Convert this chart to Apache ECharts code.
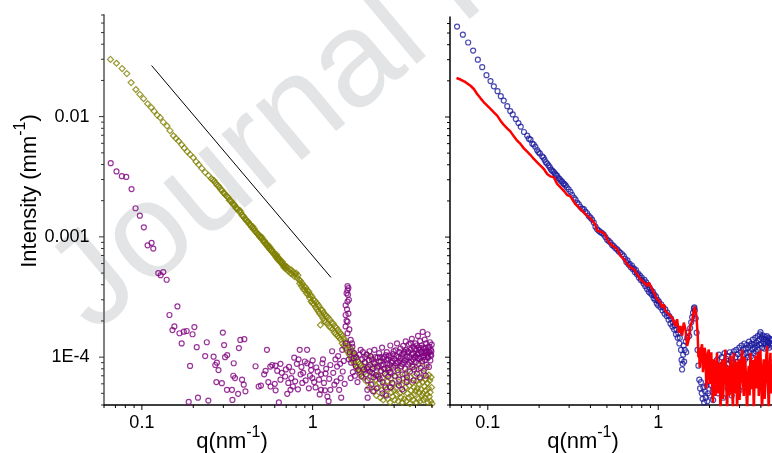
<!DOCTYPE html>
<html><head><meta charset="utf-8">
<script src="https://cdn.jsdelivr.net/npm/echarts@6/dist/echarts.min.js"></script>
<style>html,body{margin:0;padding:0;background:#fff}#c{width:772px;height:453px}</style>
</head><body><div id="c"></div>
<script>
// ---------- tick values and labels ----------
const xTickMajor = [0.1, 1];
const xTickLabels = ['0.1', '1'];
const xTickMinor = [0.06,0.07,0.08,0.09,0.2,0.3,0.4,0.5,0.6,0.7,0.8,0.9,2,3,4,5];
const yTickMajor = [1e-4, 1e-3, 1e-2];
const yTickLabels = ['1E-4', '0.001', '0.01'];
const yTickMinor = [4e-5,5e-5,6e-5,7e-5,8e-5,9e-5,2e-4,3e-4,4e-4,5e-4,6e-4,7e-4,8e-4,9e-4,
  2e-3,3e-3,4e-3,5e-3,6e-3,7e-3,8e-3,9e-3,0.02,0.03,0.04,0.05,0.06,0.07];

// ---------- left panel: olive diamonds ----------
const oliveData = [
[0.0655,0.0299],[0.0710,0.0278],[0.0766,0.0251],[0.0816,0.0228],[0.0865,0.0192],[0.0922,0.0168],[0.0973,0.0153],[0.1023,0.0141],[0.108,0.0128],[0.1135,0.0119],[0.118,0.0111],[0.123,0.0103],[0.128,0.0098],[0.1335,0.0090],[0.1403,0.00836],[0.146,0.00764],[0.153,0.00694],[0.1585,0.00659],[0.164,0.00627],[0.171,0.00584],[0.177,0.00548],[0.1847,0.00511],[0.1916,0.00485],[0.2,0.00455],[0.2077,0.00422],[0.2153,0.00398],[0.2244,0.00371],[0.2347,0.00344],[0.2455,0.00324],
[0.255,3.05e-3],[0.26,2.98e-3],[0.265,2.93e-3],[0.27,2.80e-3],[0.275,2.70e-3],[0.28,2.66e-3],[0.285,2.58e-3],[0.29,2.47e-3],[0.295,2.44e-3],[0.30,2.33e-3],[0.305,2.30e-3],[0.31,2.22e-3],[0.315,2.17e-3],[0.32,2.13e-3],[0.325,2.02e-3],[0.33,2.0e-3],[0.335,1.97e-3],[0.34,1.88e-3],[0.345,1.86e-3],[0.35,1.83e-3],[0.355,1.74e-3],[0.36,1.72e-3],[0.365,1.70e-3],[0.37,1.63e-3],[0.375,1.66e-3],[0.38,1.60e-3],[0.385,1.52e-3],[0.39,1.49e-3],[0.395,1.48e-3],[0.40,1.42e-3],[0.405,1.40e-3],[0.41,1.37e-3],[0.415,1.34e-3],[0.42,1.33e-3],[0.425,1.28e-3],[0.43,1.27e-3],[0.435,1.24e-3],[0.44,1.20e-3],[0.445,1.22e-3],[0.45,1.16e-3],[0.455,1.17e-3],[0.46,1.12e-3],[0.465,1.10e-3],[0.47,1.08e-3],[0.475,1.06e-3],[0.48,1.05e-3],[0.485,1.03e-3],[0.49,1.0e-3],[0.495,1.01e-3],[0.50,9.7e-4],[0.505,9.9e-4],[0.51,9.4e-4],[0.515,9.3e-4],[0.52,9.0e-4],[0.525,9.2e-4],[0.53,8.8e-4],[0.535,8.6e-4],[0.54,8.7e-4],[0.545,8.3e-4],[0.55,8.2e-4],[0.555,8.4e-4],[0.56,7.9e-4],[0.565,8.1e-4],[0.57,7.7e-4],[0.575,7.8e-4],[0.58,7.5e-4],[0.585,7.6e-4],[0.59,7.3e-4],[0.595,7.2e-4],[0.60,7.1e-4],[0.605,7.0e-4],[0.61,6.8e-4],[0.615,7.1e-4],[0.62,6.6e-4],[0.625,6.8e-4],[0.63,6.4e-4],[0.635,6.6e-4],[0.64,6.5e-4],[0.645,6.2e-4],[0.65,6.3e-4],[0.655,6.1e-4],[0.66,6.0e-4],[0.665,6.2e-4],[0.67,5.8e-4],[0.675,5.9e-4],[0.68,5.6e-4],[0.685,5.8e-4],[0.69,5.5e-4],[0.695,5.7e-4],[0.70,5.4e-4],[0.71,5.6e-4],[0.72,5.2e-4],[0.73,5.4e-4],[0.74,5.0e-4],[0.75,5.3e-4],[0.76,4.9e-4],[0.77,5.1e-4],[0.78,4.7e-4],[0.79,4.9e-4],[0.80,5.0e-4],[0.81,4.6e-4],[0.82,4.8e-4],[0.83,4.4e-4],[0.84,4.1e-4],[0.85,4.3e-4],[0.86,3.9e-4],[0.87,4.1e-4],[0.88,3.7e-4],[0.89,3.9e-4],[0.90,3.6e-4],[0.91,3.8e-4],[0.92,3.4e-4],[0.93,3.6e-4],[0.94,3.3e-4],[0.95,3.5e-4],[0.96,3.1e-4],[0.97,3.3e-4],[0.98,2.9e-4],[0.99,3.2e-4],[1.0,2.8e-4],[1.01,3.0e-4],
[1.02,2.75e-4],[1.03,2.95e-4],[1.04,2.6e-4],[1.05,2.85e-4],[1.06,2.5e-4],[1.07,2.75e-4],[1.08,2.4e-4],[1.09,2.65e-4],[1.10,2.3e-4],[1.11,1.85e-4],[1.12,2.5e-4],[1.13,2.2e-4],[1.14,2.45e-4],[1.15,2.1e-4],[1.16,2.35e-4],[1.17,2.0e-4],[1.18,2.25e-4],[1.19,1.95e-4],[1.20,2.2e-4],[1.22,1.9e-4],[1.23,2.15e-4],[1.25,1.8e-4],[1.26,2.05e-4],[1.28,1.75e-4],[1.29,1.95e-4],[1.31,1.7e-4],[1.32,1.9e-4],[1.34,1.6e-4],[1.35,1.8e-4],[1.37,1.55e-4],[1.38,1.75e-4],[1.40,1.5e-4],[1.41,1.68e-4],[1.43,1.45e-4],[1.44,1.6e-4],[1.46,1.4e-4],[1.47,1.55e-4],[1.49,1.3e-4],[1.50,1.5e-4],[1.52,1.25e-4],[1.53,1.42e-4],[1.55,1.2e-4],[1.56,1.35e-4],[1.58,1.15e-4],[1.59,1.3e-4],[1.61,1.1e-4],[1.62,1.26e-4],[1.64,1.05e-4],[1.65,1.2e-4],[1.67,1.0e-4],[1.68,1.16e-4],[1.70,9.6e-5],[1.71,1.12e-4],[1.73,9.2e-5],[1.74,1.06e-4],[1.76,8.8e-5],[1.77,1.02e-4],[1.79,8.5e-5],[1.80,9.8e-5],[1.82,8.2e-5],[1.83,9.4e-5],[1.85,7.9e-5],[1.86,9.1e-5],[1.88,7.6e-5],[1.89,8.8e-5],[1.91,7.3e-5],[1.92,8.5e-5],[1.94,7.0e-5],[1.95,8.2e-5],[1.97,6.8e-5],[1.98,7.9e-5],
[2.01,7.5e-5],[2.04,9.0e-5],[2.06,6.3e-5],[2.09,1.05e-4],[2.11,7.9e-5],[2.14,5.6e-5],[2.16,8.6e-5],[2.19,6.9e-5],[2.21,1.0e-4],[2.24,6.0e-5],[2.26,7.3e-5],[2.29,5.2e-5],[2.31,8.3e-5],[2.34,6.5e-5],[2.36,4.8e-5],[2.39,7.0e-5],[2.41,5.6e-5],[2.44,9.2e-5],[2.46,6.1e-5],[2.49,4.6e-5],[2.51,7.6e-5],[2.54,5.3e-5],[2.56,6.7e-5],[2.59,4.4e-5],[2.61,8.0e-5],[2.64,5.8e-5],[2.66,4.9e-5],[2.69,7.1e-5],[2.71,5.4e-5],[2.74,6.3e-5],[2.76,4.5e-5],[2.79,7.8e-5],[2.81,5.7e-5],[2.84,4.2e-5],[2.86,6.6e-5],[2.89,5.1e-5],[2.91,8.4e-5],[2.94,4.7e-5],[2.96,6.0e-5],[2.99,5.3e-5],[3.02,4.4e-5],[3.05,6.9e-5],[3.08,5.5e-5],[3.11,4.9e-5],[3.14,7.4e-5],[3.17,4.3e-5],[3.2,6.2e-5],[3.23,5.0e-5],[3.26,8.1e-5],[3.29,4.6e-5],[3.32,5.9e-5],[3.35,4.2e-5],[3.38,6.7e-5],[3.41,5.2e-5],[3.44,4.5e-5],[3.47,7.2e-5],[3.5,5.6e-5],[3.53,4.3e-5],[3.56,6.4e-5],[3.59,5.0e-5],[3.62,7.7e-5],[3.65,4.6e-5],[3.68,5.8e-5],[3.71,4.1e-5],[3.74,6.8e-5],[3.77,5.3e-5],[3.8,4.7e-5],[3.83,6.1e-5],[3.86,8.6e-5],[3.89,4.4e-5],[3.92,5.6e-5],[3.95,4.9e-5],[3.98,7.0e-5],[4.01,5.2e-5],[4.04,4.2e-5],[4.07,6.3e-5],[4.1,5.5e-5],[4.13,7.9e-5],[4.16,4.5e-5],[4.19,6.0e-5],[4.22,5.1e-5],[4.25,4.3e-5],[4.28,6.6e-5],[4.31,5.4e-5],[4.34,9.0e-5],[4.37,4.8e-5],[4.4,6.2e-5],[4.43,5.0e-5],[4.46,4.4e-5],[4.49,7.3e-5],[4.52,5.7e-5],[4.55,4.6e-5],[4.58,6.5e-5],[4.61,5.3e-5],[4.64,8.2e-5],[4.67,4.9e-5],[4.7,6.1e-5],[4.73,4.2e-5],[4.76,5.5e-5],[4.79,7.1e-5],[4.82,4.7e-5],[4.85,6.4e-5],[4.88,5.1e-5],[4.91,4.3e-5],[4.94,6.8e-5],[4.97,5.6e-5],[5.0,4.1e-5]
];

// ---------- left panel: purple circles ----------
const purpleData = [
[0.0657,4.1e-3],[0.071,3.5e-3],[0.0763,3.2e-3],[0.081,3.15e-3],[0.087,2.5e-3],[0.0918,1.73e-3],[0.0973,1.5e-3],[0.1027,1.2e-3],[0.108,8.5e-4],[0.114,8.9e-4],[0.1166,8.0e-4],[0.1247,5.0e-4],[0.1288,4.8e-4],[0.1335,5.1e-4],[0.1397,4.4e-4],[0.145,2.24e-4],[0.1615,2.64e-4],[0.151,1.68e-4],[0.155,1.8e-4],[0.166,1.58e-4],[0.171,1.3e-4],[0.176,1.63e-4],[0.183,1.65e-4],[0.198,1.55e-4],[0.203,1.78e-4],[0.1915,8.45e-5],[0.2095,1.21e-4],[0.188,4.24e-5],[0.213,4.6e-5],[0.2347,1.02e-4],[0.240,1.33e-4],[0.245,4.35e-5],[0.263,1.01e-4],[0.269,8.6e-5],[0.275,9.0e-5],[0.281,7.8e-5],[0.273,6.2e-5],[0.298,1.6e-4],[0.303,1.26e-4],[0.307,1.0e-4],[0.316,1.04e-4],[0.294,6.07e-5],[0.315,5.35e-5],[0.337,5.35e-5],[0.345,8.9e-5],[0.343,7.0e-5],[0.351,6.7e-5],[0.366,4.95e-5],[0.370,1.19e-4],[0.377,1.39e-4],[0.398,1.41e-4],[0.386,6.5e-5],[0.395,5.9e-5],[0.404,5.2e-5],[0.339,4.41e-5],[0.463,8.4e-5],[0.483,5.7e-5],[0.498,5.8e-5],[0.52,7.2e-5],[0.53,7.7e-5],[0.54,1.15e-4],[0.565,8.35e-5],[0.58,8.6e-5],[0.606,8.5e-5],[0.62,7.7e-5],[0.648,8.8e-5],[0.634,4.2e-5],[0.55,6.2e-5],[0.567,5.7e-5],[0.607,5.3e-5],[0.648,6.5e-5],[0.69,6.9e-5],[0.697,7.9e-5],[0.727,8.3e-5],[0.75,6.7e-5],[0.766,5.7e-5],[0.742,5.35e-5],[0.71,4.95e-5],[0.78,9.9e-5],[0.808,8.8e-5],[0.827,9.6e-5],[0.85,7.2e-5],[0.84,1.15e-4],[0.86,8.3e-5],[0.88,7.4e-5],[0.928,1.15e-4],[0.93,8.9e-5],[0.965,7.0e-5],[0.975,8.6e-5],[0.996,6.7e-5],[1.02,6.2e-5],[1.07,7.6e-5],[1.12,7.2e-5],[1.14,8.9e-5],[1.165,6.1e-5],[1.19,7.3e-5],[1.12,5.35e-5],[1.22,4.7e-5],[1.27,8.6e-5],[1.3,1.12e-4],[1.24,4.3e-5],[1.36,9.6e-5],[1.39,8.35e-5],[1.46,6.7e-5],[1.43,5.35e-5],[1.27,5.35e-5],[1.49,1.15e-4],
[0.6,6.0e-5],[0.66,7.4e-5],[0.72,6.1e-5],[0.76,7.6e-5],[0.79,6.3e-5],[0.82,5.4e-5],[0.87,6.1e-5],[0.9,9.2e-5],[0.91,6.4e-5],[0.95,5.5e-5],[0.98,7.8e-5],[1.0,9.4e-5],[1.04,5.6e-5],[1.05,8.2e-5],[1.09,6.5e-5],[1.1,4.9e-5],[1.15,9.6e-5],[1.18,5.3e-5],[1.2,8.0e-5],[1.25,6.6e-5],[1.32,7.4e-5],[1.34,5.9e-5],[1.38,6.3e-5],[1.41,1.02e-4],[1.45,8.8e-5],[1.47,4.6e-5],[1.5,7.6e-5],[1.52,9.3e-5],[1.54,6.0e-5],
[1.56,1.3e-4],[1.6,1.58e-4],[1.6,3.6e-4],[1.6,3.9e-4],[1.61,3.3e-4],[1.56,2.7e-4],[1.63,3.0e-4],[1.56,2.24e-4],[1.6,1.97e-4],[1.56,1.8e-4],[1.58,2.0e-4],[1.59,2.5e-4],[1.6,2.9e-4],[1.62,2.3e-4],[1.58,3.4e-4],[1.62,3.75e-4],[1.64,1.7e-4],[1.65,1.1e-4],[1.67,1.39e-4],[1.71,1.22e-4],[1.75,1.08e-4],[1.63,9.6e-5],[1.67,6.7e-5],[1.68,9.0e-5],[1.7,1.3e-4],[1.72,7.5e-5],[1.74,9.8e-5],[1.77,7.0e-5],[1.79,8.35e-5],[1.8,1.0e-4],[1.83,6.2e-5],[1.85,7.8e-5],[1.88,1.05e-4],[1.91,1.15e-4],[1.93,6.9e-5],[1.95,9.6e-5],[1.97,1.1e-4],[2.0,7.9e-5],[2.09,5.35e-5],
[2.02,9.1e-5],[2.05,7.2e-5],[2.07,1.05e-4],[2.10,6.4e-5],[2.12,8.3e-5],[2.15,1.12e-4],[2.17,7.6e-5],[2.2,5.9e-5],[2.22,9.6e-5],[2.25,8.0e-5],[2.27,6.8e-5],[2.3,1.15e-4],[2.32,8.8e-5],[2.35,7.1e-5],[2.37,5.5e-5],[2.4,9.9e-5],[2.42,8.4e-5],[2.45,1.08e-4],[2.47,6.6e-5],[2.5,9.2e-5],[2.52,7.7e-5],[2.55,1.2e-4],[2.57,6.2e-5],[2.6,8.7e-5],[2.62,1.0e-4],[2.65,7.3e-5],[2.67,5.6e-5],[2.7,9.5e-5],[2.72,1.1e-4],[2.75,8.1e-5],[2.77,6.9e-5],[2.8,1.03e-4],[2.82,8.6e-5],[2.85,1.25e-4],[2.87,7.4e-5],[2.9,9.0e-5],[2.92,6.1e-5],[2.95,1.06e-4],[2.97,8.2e-5],[3.0,9.7e-5],[3.03,7.0e-5],[3.06,1.14e-4],[3.09,8.9e-5],[3.12,1.3e-4],[3.15,7.8e-5],[3.18,1.0e-4],[3.21,6.5e-5],[3.24,9.3e-5],[3.27,1.18e-4],[3.3,8.4e-5],[3.33,1.05e-4],[3.36,7.2e-5],[3.39,1.24e-4],[3.42,9.0e-5],[3.45,1.1e-4],[3.48,8.0e-5],[3.51,1.35e-4],[3.54,9.6e-5],[3.57,6.8e-5],[3.6,1.12e-4],[3.63,8.7e-5],[3.66,1.28e-4],[3.69,1.0e-4],[3.72,7.6e-5],[3.75,1.15e-4],[3.78,9.2e-5],[3.81,1.42e-4],[3.84,8.3e-5],[3.87,1.08e-4],[3.9,1.22e-4],[3.93,7.9e-5],[3.96,1.0e-4],[3.99,1.3e-4],[4.02,9.1e-5],[4.05,1.16e-4],[4.08,7.3e-5],[4.11,1.05e-4],[4.14,1.5e-4],[4.17,8.8e-5],[4.2,1.2e-4],[4.23,9.7e-5],[4.26,1.36e-4],[4.29,8.1e-5],[4.32,1.1e-4],[4.35,1.25e-4],[4.38,9.3e-5],[4.41,1.62e-4],[4.44,1.03e-4],[4.47,7.7e-5],[4.5,1.18e-4],[4.53,1.4e-4],[4.56,9.5e-5],[4.59,1.12e-4],[4.62,1.3e-4],[4.65,8.6e-5],[4.68,1.05e-4],[4.71,1.55e-4],[4.74,9.9e-5],[4.77,1.21e-4],[4.8,8.3e-5],[4.83,1.1e-4],[4.86,1.33e-4],[4.89,9.4e-5],[4.92,1.15e-4],[4.95,1.03e-4],[4.98,1.27e-4],
[2.03,1.0e-4],[2.08,8.1e-5],[2.13,9.4e-5],[2.18,1.02e-4],[2.23,7.4e-5],[2.28,9.0e-5],[2.33,1.0e-4],[2.38,8.2e-5],[2.43,6.9e-5],[2.48,1.0e-4],[2.53,8.6e-5],[2.58,9.8e-5],[2.63,8.0e-5],[2.68,1.04e-4],[2.73,8.9e-5],[2.78,9.6e-5],[2.83,7.5e-5],[2.88,1.0e-4],[2.93,9.3e-5],[2.98,1.12e-4],[3.04,8.5e-5],[3.1,1.02e-4],[3.16,9.0e-5],[3.22,1.1e-4],[3.28,9.8e-5],[3.34,8.8e-5],[3.4,1.07e-4],[3.46,9.4e-5],[3.52,1.15e-4],[3.58,1.0e-4],[3.64,1.1e-4],[3.7,9.0e-5],[3.76,1.3e-4],[3.82,1.05e-4],[3.88,9.6e-5],[3.94,1.17e-4],[4.0,1.02e-4],[4.06,1.25e-4],[4.12,9.8e-5],[4.18,1.08e-4],[4.24,1.15e-4],[4.3,1.0e-4],[4.36,1.1e-4],[4.42,1.2e-4],[4.48,1.0e-4],[4.54,1.08e-4],[4.6,1.2e-4],[4.66,1.12e-4],[4.72,1.0e-4],[4.78,1.1e-4],[4.84,1.22e-4],[4.9,1.05e-4],[4.96,1.12e-4],
[2.26,5.2e-5],[2.56,5.0e-5],[2.86,5.6e-5],[3.2,5.8e-5],[3.55,6.2e-5],[3.9,6.4e-5],[4.25,6.8e-5],[4.6,7.0e-5],[2.1,4.6e-5],[2.7,4.8e-5],[3.35,5.4e-5]
];

// ---------- left panel: reference slope line ----------
const slopeLine = [[0.114, 0.0266], [1.28, 4.6e-4]];

// ---------- right panel: blue circles ----------
const blueData = [
[0.066,0.0566],[0.0714,0.0485],[0.0767,0.0417],[0.082,0.0357],[0.0874,0.030],[0.0927,0.026],[0.0982,0.0223],[0.1037,0.0199],[0.1085,0.018],[0.114,0.0164],[0.1192,0.0149],[0.124,0.0137],[0.130,0.0123],[0.1354,0.0112],[0.140,0.0105],[0.146,0.0096],[0.1513,0.0089],[0.156,0.0083],[0.163,0.0075],
[0.1703,6.99e-3],[0.178,6.47e-3],[0.1825,6.0e-3],[0.190,5.65e-3],[0.1947,5.3e-3],[0.2019,4.97e-3],[0.2083,4.7e-3],[0.2152,4.4e-3],[0.2229,4.1e-3],[0.2312,3.8e-3],[0.2387,3.57e-3],[0.247,3.39e-3],[0.2552,3.24e-3],[0.264,3.04e-3],[0.2725,2.9e-3],[0.2812,2.76e-3],[0.2906,2.6e-3],[0.3053,2.38e-3],[0.3196,2.13e-3],[0.3344,1.94e-3],[0.3497,1.78e-3],[0.3658,1.71e-3],[0.3826,1.58e-3],[0.4002,1.45e-3],[0.4186,1.32e-3],[0.438,1.16e-3],[0.458,1.1e-3],[0.479,1.05e-3],[0.5013,9.5e-4],[0.524,9.0e-4],[0.548,8.4e-4],[0.574,7.9e-4],[0.6,7.4e-4],[0.628,6.95e-4],
[0.174,6.6e-3],[0.186,5.9e-3],[0.198,5.1e-3],[0.212,4.6e-3],[0.219,4.2e-3],[0.227,3.95e-3],[0.235,3.65e-3],[0.243,3.5e-3],[0.251,3.3e-3],[0.26,3.1e-3],[0.268,2.95e-3],[0.277,2.8e-3],[0.286,2.7e-3],[0.298,2.5e-3],[0.312,2.25e-3],[0.327,2.05e-3],[0.342,1.87e-3],[0.358,1.72e-3],[0.374,1.63e-3],[0.391,1.5e-3],[0.409,1.4e-3],[0.428,1.22e-3],[0.448,1.13e-3],[0.468,1.08e-3],[0.49,1.0e-3],[0.512,9.3e-4],[0.536,8.6e-4],[0.56,8.1e-4],[0.587,7.6e-4],[0.614,7.2e-4],
[0.64,6.6e-4],[0.65,6.2e-4],[0.66,6.4e-4],[0.67,5.9e-4],[0.68,6.0e-4],[0.69,5.6e-4],[0.70,5.8e-4],[0.71,5.4e-4],[0.72,5.5e-4],[0.73,5.1e-4],[0.74,5.3e-4],[0.75,4.9e-4],[0.76,5.0e-4],[0.77,4.6e-4],[0.78,4.8e-4],[0.79,4.4e-4],[0.80,4.6e-4],[0.81,4.3e-4],[0.82,4.1e-4],[0.83,4.4e-4],[0.84,3.9e-4],[0.85,4.2e-4],[0.86,3.7e-4],[0.87,4.0e-4],[0.88,3.5e-4],[0.89,3.8e-4],[0.90,3.4e-4],[0.91,3.6e-4],[0.92,3.3e-4],[0.93,3.5e-4],[0.94,3.1e-4],[0.95,3.3e-4],[0.96,3.0e-4],[0.97,3.2e-4],[0.98,2.8e-4],[0.99,3.0e-4],[1.0,2.7e-4],[1.01,2.9e-4],[1.03,2.6e-4],[1.04,2.75e-4],[1.06,2.45e-4],[1.07,2.6e-4],[1.09,2.3e-4],[1.10,2.5e-4],[1.12,2.2e-4],[1.13,2.35e-4],[1.15,2.05e-4],[1.16,2.2e-4],[1.18,1.9e-4],[1.19,2.1e-4],[1.21,1.8e-4],[1.22,1.95e-4],[1.24,1.7e-4],[1.25,1.85e-4],[1.27,1.55e-4],[1.28,1.7e-4],[1.30,1.45e-4],[1.31,1.6e-4],[1.33,1.3e-4],[1.34,1.45e-4],[1.36,1.15e-4],[1.37,9.5e-5],[1.38,7.9e-5],[1.39,8.8e-5],[1.40,1.05e-4],[1.41,1.25e-4],[1.42,9.2e-5],[1.43,1.15e-4],[1.45,1.35e-4],[1.46,1.1e-4],[1.48,1.45e-4],[1.50,1.6e-4],[1.52,1.5e-4],[1.54,1.75e-4],[1.56,1.95e-4],[1.58,2.15e-4],[1.60,2.35e-4],[1.62,2.55e-4],[1.63,2.6e-4],[1.64,2.45e-4],[1.66,2.1e-4],[1.68,1.6e-4],[1.70,1.15e-4],[1.72,8.5e-5],[1.74,6.5e-5],[1.76,5.5e-5],[1.78,6.2e-5],[1.80,5.0e-5],[1.82,4.5e-5],[1.84,5.6e-5],[1.86,4.2e-5],[1.88,5.2e-5],[1.90,4.6e-5],[1.92,5.8e-5],[1.94,4.3e-5],[1.96,5.0e-5],[1.98,6.3e-5],[2.0,4.8e-5],
[2.03,5.9e-5],[2.06,7.0e-5],[2.09,5.4e-5],[2.12,6.6e-5],[2.15,8.0e-5],[2.18,6.1e-5],[2.21,9.5e-5],[2.24,7.4e-5],[2.27,1.05e-4],[2.30,6.8e-5],[2.33,8.6e-5],[2.36,1.0e-4],[2.39,7.7e-5],[2.42,9.0e-5],[2.45,1.08e-4],[2.48,8.2e-5],[2.51,9.7e-5],[2.54,7.2e-5],[2.57,1.02e-4],[2.60,8.8e-5],[2.63,1.1e-4],[2.66,9.3e-5],[2.69,7.9e-5],[2.72,1.05e-4],[2.75,9.0e-5],[2.78,1.12e-4],[2.81,8.4e-5],[2.84,1.0e-4],[2.87,1.15e-4],[2.90,9.1e-5],[2.93,1.06e-4],[2.96,8.0e-5],[2.99,1.2e-4],[3.02,9.8e-5],[3.05,1.1e-4],[3.08,1.25e-4],[3.11,9.4e-5],[3.14,1.16e-4],[3.17,1.05e-4],[3.20,1.3e-4],[3.23,9.6e-5],[3.26,1.18e-4],[3.29,1.08e-4],[3.32,1.27e-4],[3.35,1.0e-4],[3.38,1.2e-4],[3.41,1.35e-4],[3.44,1.1e-4],[3.47,1.25e-4],[3.50,1.02e-4],[3.53,1.3e-4],[3.56,1.16e-4],[3.59,1.4e-4],[3.62,1.08e-4],[3.65,1.28e-4],[3.68,1.2e-4],[3.71,1.45e-4],[3.74,1.12e-4],[3.77,1.32e-4],[3.80,1.25e-4],[3.83,1.5e-4],[3.86,1.15e-4],[3.89,1.38e-4],[3.92,1.28e-4],[3.95,1.55e-4],[3.98,1.62e-4],[4.01,1.3e-4],[4.04,1.45e-4],[4.07,1.2e-4],[4.10,1.52e-4],[4.13,1.35e-4],[4.16,1.42e-4],[4.19,1.18e-4],[4.22,1.48e-4],[4.25,1.3e-4],[4.28,1.4e-4],[4.31,1.22e-4],[4.34,1.5e-4],[4.37,1.35e-4],[4.40,1.25e-4],[4.43,1.45e-4],[4.46,1.32e-4],[4.49,1.2e-4],[4.52,1.42e-4],[4.55,1.3e-4],[4.58,1.38e-4],[4.61,1.25e-4],[4.64,1.4e-4],
[2.1,4.4e-5],[2.25,5.0e-5],[2.4,4.6e-5],[2.55,5.5e-5],[2.7,4.8e-5],[2.85,6.0e-5],[3.0,5.3e-5],[3.15,6.5e-5],[3.3,5.8e-5],[3.45,7.0e-5],[3.6,6.2e-5],[3.75,7.5e-5],[3.9,6.8e-5],[4.05,8.0e-5],[4.2,7.2e-5],[4.35,8.5e-5],[4.5,7.6e-5],[4.62,9.0e-5]
];

// ---------- right panel: red line ----------
const redData = [
[0.0655,0.0211],[0.0692,0.0205],[0.0740,0.0195],[0.0792,0.0182],[0.0828,0.0171],[0.0866,0.01555],[0.0907,0.0143],[0.0948,0.01325],[0.0992,0.01242],[0.1037,0.01166],[0.1085,0.01094],[0.1135,0.01026],[0.1187,0.00932],[0.1242,0.00858],[0.1299,0.00805],[0.1359,0.00755],[0.1421,0.0069],[0.1487,0.00635],[0.1555,0.00596],[0.1628,0.00548],[0.1702,0.00514],[0.1781,0.00482],[0.1862,0.00447],[0.1948,0.00419],[0.2037,0.00393],[0.2132,0.00369],[0.2230,0.00335],[0.2332,0.0032],[0.2440,0.00314],[0.2495,0.00304],[0.2552,0.00277],[0.2670,0.00259],[0.2793,0.00243],[0.2921,0.00224],[0.2987,0.00217],[0.3055,0.00218],[0.3125,0.00207],[0.3196,0.00197],[0.3269,0.00188],[0.3343,0.00182],[0.3497,0.00171],[0.3658,0.0016],[0.3826,0.00151],[0.4002,0.00143],[0.4187,0.00132],[0.4282,0.00126],[0.438,0.00113],[0.4581,0.00111],[0.4793,0.00108],[0.4902,0.00103],[0.5013,0.000962],[0.5128,0.000962],[0.5245,0.000874],[0.5486,0.000836],[0.5739,0.000794],
[0.600,6.99e-4],[0.628,6.55e-4],[0.657,5.95e-4],[0.687,5.58e-4],[0.719,5.41e-4],[0.752,4.91e-4],[0.786,4.46e-4],[0.804,4.61e-4],[0.823,4.19e-4],[0.860,3.93e-4],[0.880,4.19e-4],[0.900,4.06e-4],[0.920,3.69e-4],[0.941,3.46e-4],[0.963,3.57e-4],[0.985,3.04e-4],[1.030,2.85e-4],[1.054,2.59e-4],[1.078,2.76e-4],[1.102,2.43e-4],[1.127,2.51e-4],[1.153,2.28e-4],[1.179,2.36e-4],[1.206,2.14e-4],[1.233,2.21e-4],[1.261,1.82e-4],[1.290,2.07e-4],[1.320,1.6e-4],[1.350,1.82e-4],[1.381,1.51e-4],[1.412,1.94e-4],[1.444,1.71e-4],[1.477,1.24e-4],[1.511,1.41e-4],[1.545,1.82e-4],[1.580,2.01e-4],[1.616,2.43e-4],[1.638,2.64e-4],[1.675,2.21e-4],
[1.705,1.51e-4],[1.72,1.0e-4],[1.737,1.16e-4],[1.75,8.2e-5],[1.768,9.6e-5],[1.79,1.2e-4],[1.808,1.28e-4],[1.83,7.5e-5],[1.850,9.0e-5],[1.87,1.2e-4],[1.892,1.09e-4],[1.915,5.5e-5],[1.935,6.99e-5],[1.955,1.05e-4],[1.979,1.16e-4],[2.0,6.0e-5],[2.024,8.47e-5],[2.048,1.1e-4],[2.071,5.77e-5],[2.095,4.2e-5],[2.118,9.6e-5],[2.142,7.0e-5],[2.166,4.76e-5],[2.19,8.8e-5],[2.215,1.09e-4],[2.24,5.0e-5],[2.266,6.99e-5],[2.29,9.0e-5],[2.317,3.5e-5],[2.343,6.5e-5],[2.370,9.6e-5],[2.397,4.5e-5],[2.424,6.15e-5],[2.45,8.5e-5],[2.479,1.16e-4],[2.507,6.0e-5],[2.535,3.5e-5],[2.564,7.0e-5],[2.593,8.47e-5],[2.62,4.8e-5],[2.651,1.03e-4],[2.68,7.5e-5],[2.712,5.41e-5],[2.743,3.8e-5],[2.774,1.09e-4],[2.805,5.0e-5],[2.837,6.99e-5],[2.87,9.2e-5],[2.902,3.5e-5],[2.935,7.5e-5],[2.968,9.6e-5],[3.0,4.4e-5],[3.036,6.15e-5],[3.07,9.0e-5],[3.105,1.16e-4],[3.14,6.5e-5],[3.175,4.76e-5],[3.21,1.0e-4],[3.248,9.0e-5],[3.285,5.5e-5],[3.322,3.5e-5],[3.36,7.0e-5],[3.397,8.47e-5],[3.436,4.8e-5],[3.475,1.09e-4],[3.515,7.5e-5],[3.554,5.41e-5],[3.594,9.5e-5],[3.635,3.5e-5],[3.676,6.8e-5],[3.718,1.03e-4],[3.76,5.5e-5],[3.80,7.94e-5],[3.845,1.1e-4],[3.889,4.76e-5],[3.933,8.5e-5],[3.977,1.16e-4],[4.02,6.0e-5],[4.068,3.5e-5],[4.115,7.8e-5],[4.161,9.6e-5],[4.21,4.5e-5],[4.255,6.15e-5],[4.3,1.0e-4],[4.352,1.24e-4],[4.4,6.5e-5],[4.451,3.5e-5],[4.5,8.0e-5],[4.553,1.09e-4],[4.605,5.0e-5],[4.657,6.99e-5]
];

// ---------- layout / style ----------
const FONT = '"Liberation Sans", Arial, Helvetica, sans-serif';
const X_MIN = 0.06, Y_MIN = 4e-5;
const X_MAX = [5, 4.65], Y_MAX = [0.07, 0.068];

function xTickSeries(gi, vals, len, labels) {
  return {
    type: 'custom', xAxisIndex: gi, yAxisIndex: gi, clip: false, silent: true, z: 6,
    encode: { x: 0, y: 1 },
    data: vals.filter(v => v <= X_MAX[gi] * 1.0001).map(v => [v, Y_MIN]),
    renderItem: (params, api) => {
      const p = api.coord([api.value(0), api.value(1)]);
      const ch = [{ type: 'line', shape: { x1: p[0], y1: p[1], x2: p[0], y2: p[1] + len }, style: { stroke: '#000', lineWidth: 1 } }];
      if (labels) ch.push({ type: 'text', x: p[0], y: p[1] + 9,
        style: { text: labels[params.dataIndex], fontSize: 18, fontFamily: FONT, fill: '#000', align: 'center', verticalAlign: 'top' } });
      return { type: 'group', children: ch };
    }
  };
}
function yTickSeries(gi, vals, len, labels, color) {
  return {
    type: 'custom', xAxisIndex: gi, yAxisIndex: gi, clip: false, silent: true, z: 6,
    encode: { x: 0, y: 1 },
    data: vals.filter(v => v <= Y_MAX[gi] * 1.0001).map(v => [X_MIN, v]),
    renderItem: (params, api) => {
      const p = api.coord([api.value(0), api.value(1)]);
      const ch = [{ type: 'line', shape: { x1: p[0] - len, y1: p[1], x2: p[0], y2: p[1] }, style: { stroke: color, lineWidth: 1 } }];
      if (labels) ch.push({ type: 'text', x: p[0] - 14.5, y: p[1],
        style: { text: labels[params.dataIndex], fontSize: 18, fontFamily: FONT, fill: '#000', align: 'right', verticalAlign: 'middle' } });
      return { type: 'group', children: ch };
    }
  };
}

const richTitle = {
  a: { fontSize: 22, fontFamily: FONT, fill: '#000', lineHeight: 28, verticalAlign: 'bottom' },
  s: { fontSize: 16, fontFamily: FONT, fill: '#000', lineHeight: 16, verticalAlign: 'top' }
};

const chart = echarts.init(document.getElementById('c'), null, { renderer: 'canvas' });
chart.setOption({
  animation: false,
  backgroundColor: '#fff',
  grid: [
    { left: 104, top: 15, width: 328, height: 390 },
    { left: 450, top: 17, width: 322, height: 388 }
  ],
  xAxis: [0, 1].map(gi => ({
    type: 'log', logBase: 10, gridIndex: gi, min: X_MIN, max: X_MAX[gi],
    axisLine: { show: true, onZero: false, lineStyle: { color: '#000', width: 1.5 } },
    axisTick: { show: false }, axisLabel: { show: false }, splitLine: { show: false }, minorTick: { show: false }
  })),
  yAxis: [0, 1].map(gi => ({
    type: 'log', logBase: 10, gridIndex: gi, min: Y_MIN, max: Y_MAX[gi],
    axisLine: { show: true, onZero: false, lineStyle: { color: gi === 0 ? '#808080' : '#000', width: gi === 0 ? 2 : 1.5 } },
    axisTick: { show: false }, axisLabel: { show: false }, splitLine: { show: false }, minorTick: { show: false }
  })),
  graphic: [
    { type: 'text', x: 469, y: -29, rotation: 0.698, z: -10, silent: true,
      style: { text: 'Journal Pre-proof', fontSize: 135, fontFamily: FONT, fill: '#e3e4e6', align: 'center', verticalAlign: 'middle' } },
    { type: 'text', x: 27, y: 191, rotation: Math.PI / 2, z: 10,
      style: { text: '{a|Intensity (mm}{s|-1}{a|)}', rich: richTitle, align: 'center', verticalAlign: 'middle' } },
    { type: 'text', x: 232, y: 439, z: 10,
      style: { text: '{a|q(nm}{s|-1}{a|)}', rich: richTitle, align: 'center', verticalAlign: 'middle' } },
    { type: 'text', x: 583, y: 439, z: 10,
      style: { text: '{a|q(nm}{s|-1}{a|)}', rich: richTitle, align: 'center', verticalAlign: 'middle' } }
  ],
  series: [
    { type: 'scatter', xAxisIndex: 0, yAxisIndex: 0, data: oliveData, symbol: 'diamond', symbolSize: 6,
      itemStyle: { color: 'rgba(0,0,0,0)', borderColor: '#808000', borderWidth: 1.2 }, z: 2 },
    { type: 'scatter', xAxisIndex: 0, yAxisIndex: 0, data: purpleData, symbol: 'circle', symbolSize: 5,
      itemStyle: { color: 'rgba(0,0,0,0)', borderColor: '#800080', borderWidth: 1.2 }, z: 3 },
    { type: 'line', xAxisIndex: 0, yAxisIndex: 0, data: slopeLine, symbol: 'none',
      lineStyle: { color: '#000', width: 1 }, z: 4 },
    { type: 'scatter', xAxisIndex: 1, yAxisIndex: 1, data: blueData, symbol: 'circle', symbolSize: 5,
      itemStyle: { color: 'rgba(0,0,0,0)', borderColor: '#1a1a9e', borderWidth: 1.2 }, z: 2 },
    { type: 'line', xAxisIndex: 1, yAxisIndex: 1, data: redData, symbol: 'none', clip: true,
      lineStyle: { color: '#ff0000', width: 2.5 }, z: 4 },
    xTickSeries(0, xTickMajor, 5, xTickLabels), xTickSeries(0, xTickMinor, 3, null),
    yTickSeries(0, yTickMajor, 5, yTickLabels, '#333'), yTickSeries(0, yTickMinor, 3, null, '#333'),
    xTickSeries(1, xTickMajor, 5, xTickLabels), xTickSeries(1, xTickMinor, 3, null),
    yTickSeries(1, yTickMajor, 5, null, '#000'), yTickSeries(1, yTickMinor, 3, null, '#000')
  ]
});
</script>
</body></html>
